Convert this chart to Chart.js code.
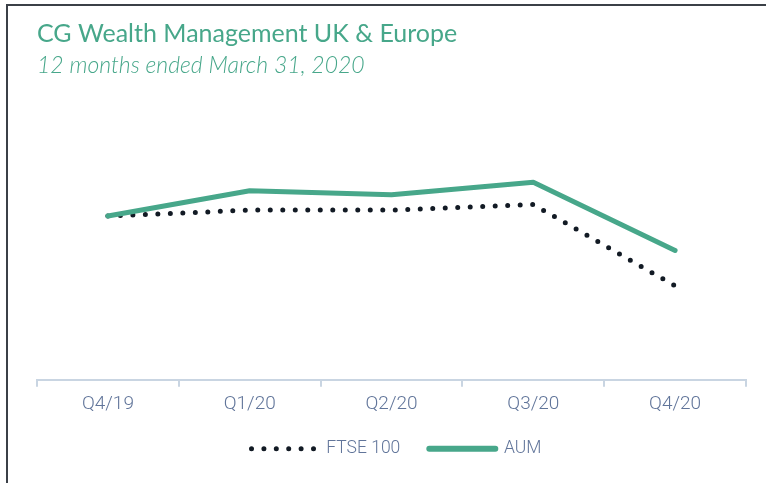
<!DOCTYPE html>
<html>
<head>
<meta charset="utf-8">
<script src="https://cdn.jsdelivr.net/npm/chart.js@4"></script>
<style>
  body { margin: 0; background: #fff; overflow: hidden; }
  #frame { position: absolute; left: 6px; top: 4px; width: 900px; height: 600px;
           border-left: 2px solid #3b4047; border-top: 2px solid #3b4047; }
  #wrap { position: absolute; left: 0; top: 0; width: 766px; height: 483px; }
</style>
</head>
<body>
<div id="frame"></div>
<div id="wrap"><canvas id="myChart" width="766" height="483"></canvas></div>
<script>
    // Quarters on the x axis
    const labels = ['Q4/19', 'Q1/20', 'Q2/20', 'Q3/20', 'Q4/20'];

    // indexed values, Q4/19 = 100
    const ftse = [100, 101.9, 101.9, 103.7, 77.7];
    const aum = [100, 108.1, 106.8, 110.8, 89.0];

    const green = '#47a78a';
    const ink = '#121a24';
    const slate = '#61759a';

    // legend samples: six dots for FTSE, a thick bar for AUM
    const legendLook = [
        { lineDash: [0, 12.4, 0, 12.4, 0, 12.4, 0, 12.4, 0, 12.4, 0, 60], lineWidth: 5, color: ink },
        { lineDash: [], lineWidth: 6, color: green }
    ];

    // nudge the legend a little right, the way the original sits
    const legendShift = {
        id: 'legendShift',
        afterLayout(chart) {
            chart.legend.left += 5;
            chart.legend.right += 5;
        }
    };

    const data = {
        labels: labels,
        datasets: [{
            label: 'FTSE 100',
            data: ftse,
            borderColor: ink,
            backgroundColor: ink,
            borderWidth: 5,
            borderDash: [0, 12.5],
            borderCapStyle: 'round',
            pointRadius: 0,
            tension: 0,
            order: 1
        }, {
            label: 'AUM',
            data: aum,
            borderColor: green,
            backgroundColor: green,
            borderWidth: 5,
            borderCapStyle: 'round',
            borderJoinStyle: 'round',
            pointRadius: 0,
            tension: 0,
            order: 0
        }]
    };

    const config = {
        type: 'line',
        data: data,
        plugins: [legendShift],
        options: {
            responsive: false,
            animation: false,
            layout: { padding: { left: 37, right: 20, top: 0, bottom: 15.5 } },
            scales: {
                x: {
                    offset: true,
                    afterFit: (scale) => { scale.height -= 10.5; },
                    grid: {
                        offset: true,
                        drawOnChartArea: false,
                        drawTicks: true,
                        tickLength: 7,
                        color: '#c9d5e2',
                        lineWidth: 2
                    },
                    border: { color: '#c9d5e2', width: 2 },
                    ticks: {
                        color: slate,
                        padding: 6,
                        font: { family: 'Roboto', size: 19, weight: 300 }
                    }
                },
                y: {
                    display: false,
                    min: 47.74,
                    max: 137.2
                }
            },
            plugins: {
                legend: {
                    position: 'bottom',
                    labels: {
                        usePointStyle: true,
                        pointStyle: 'line',
                        pointStyleWidth: 66,
                        boxHeight: 8,
                        padding: 29,
                        color: slate,
                        font: { family: 'Roboto', size: 17.5, weight: 300 },
                        sort: (a, b) => a.datasetIndex - b.datasetIndex,
                        generateLabels: (chart) => {
                            const items = Chart.defaults.plugins.legend.labels.generateLabels(chart);
                            items.forEach(it => {
                                const look = legendLook[it.datasetIndex];
                                it.lineDash = look.lineDash;
                                it.lineWidth = look.lineWidth;
                                it.lineCap = 'round';
                                it.strokeStyle = look.color;
                                it.fillStyle = look.color;
                                it.pointStyle = 'line';
                            });
                            return items;
                        }
                    }
                },
                title: {
                    display: true,
                    align: 'start',
                    text: 'CG Wealth Management UK & Europe',
                    color: green,
                    font: { family: 'Lato', size: 25, weight: 'normal' },
                    padding: { top: 19, bottom: 0 }
                },
                subtitle: {
                    display: true,
                    align: 'start',
                    text: '12 months ended March 31, 2020',
                    color: green,
                    font: { family: 'Lato', size: 23, style: 'italic', weight: 300 },
                    padding: { top: 3, bottom: 20 }
                },
                tooltip: { enabled: false }
            }
        }
    };

    const myChart = new Chart(document.getElementById('myChart'), config);
</script>
</body>
</html>
